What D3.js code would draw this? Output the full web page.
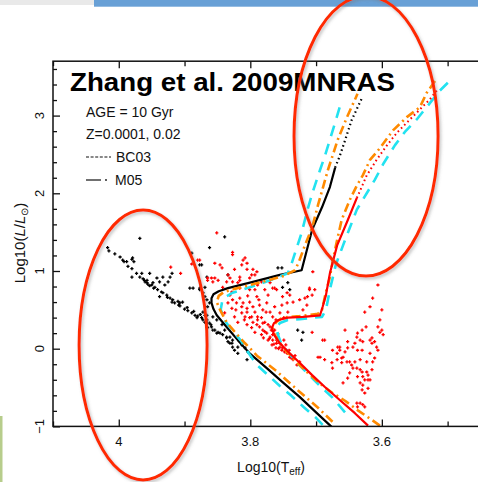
<!DOCTYPE html>
<html>
<head>
<meta charset="utf-8">
<script src="https://cdn.jsdelivr.net/npm/d3@7"></script>
<style>
  html, body { margin: 0; padding: 0; background: #fff; }
  svg { display: block; }
  text { font-family: "Liberation Sans", Arial, Helvetica, sans-serif; }
</style>
</head>
<body>
<svg id="hr" width="478" height="482"></svg>
<script>
// ---- Observed stars: [log Teff, log L/Lsun] ----
const starsBlack = [
  [4.017,1.30],[4.015,1.26],[4.006,1.22],[3.998,1.18],[3.994,1.14],[3.988,1.12],[3.980,1.15],[3.977,1.12],
  [3.986,1.06],[3.980,1.03],[3.973,0.97],[3.968,0.92],[3.963,0.90],[3.960,0.86],[3.957,0.85],[3.956,0.83],
  [3.957,0.88],[3.953,0.81],[3.950,0.82],[3.968,1.42],[3.980,0.92],[3.953,0.97],[3.942,0.91],[3.938,0.86],
  [3.945,0.79],[3.941,0.76],[3.935,0.73],[3.933,0.72],[3.927,0.69],[3.930,0.82],[3.925,0.86],[3.922,0.92],
  [3.919,0.97],[3.938,0.67],[3.922,0.65],[3.918,0.63],[3.919,0.60],[3.915,0.59],[3.909,0.56],[3.907,0.55],
  [3.903,0.60],[3.892,0.78],[3.887,0.78],[3.900,0.51],[3.895,0.49],[3.889,0.46],[3.884,0.43],[3.880,0.42],
  [3.881,0.40],[3.874,0.40],[3.872,0.37],[3.869,0.34],[3.865,0.33],[3.866,0.43],[3.877,0.78],[3.869,0.79],
  [3.862,1.30],[3.866,0.28],[3.865,0.27],[3.860,0.31],[3.857,0.24],[3.851,0.20],[3.836,0.15],[3.827,0.11],
  [3.819,0.02],[3.831,0.07],[3.889,1.23],[3.839,1.44],[3.979,1.17],[3.992,1.12],[3.965,0.97],[3.948,0.85],
  [3.933,0.92],[3.907,0.59],[3.874,1.08],[3.866,0.92],[3.872,0.47],[3.869,0.43],[3.866,0.37],[3.862,0.33],
  [3.859,0.28],[3.854,0.24],[3.849,0.21],[3.846,0.20],[3.842,0.18],[3.836,0.14],[3.834,0.09],[3.828,0.07],
  [3.827,0.02],[3.824,-0.02],[3.819,-0.06],[3.831,0.15],[3.839,0.24],[3.843,0.31],[3.851,0.37],[3.857,0.41],
  [3.862,0.59],[3.865,0.54],[3.866,0.63],[3.869,0.67],[3.872,0.72],[3.877,0.76],[3.758,1.04],[3.743,0.85],
  [3.751,0.79],[3.752,1.04],[3.740,0.76],[3.728,0.24],[3.720,0.21],[3.722,0.11],[3.834,0.95],[3.813,0.05],
  [3.808,0.01],[3.804,-0.04],[3.798,-0.11],[3.805,-0.14],[3.877,1.08],
  [3.910,0.61],[3.896,0.53],[3.886,0.48],[3.876,0.44],[3.947,0.78],[3.961,0.88],[3.926,0.66]
];

const starsRed = [
  [3.854,1.10],[3.846,1.08],[3.843,1.04],[3.854,0.91],[3.865,0.88],[3.849,0.88],[3.834,0.95],[3.831,0.91],
  [3.827,1.21],[3.824,1.02],[3.813,1.08],[3.805,1.10],[3.796,1.02],[3.793,0.95],[3.801,0.91],[3.816,0.88],
  [3.836,0.86],[3.842,0.79],[3.827,0.86],[3.819,0.85],[3.808,1.17],[3.921,1.05],[3.906,0.97],[3.880,1.14],
  [3.889,1.09],[3.865,0.91],[3.859,0.91],[3.851,1.49],[3.827,1.24],[3.877,1.14],[3.857,0.86],[3.811,1.14],
  [3.798,0.95],[3.790,0.99],[3.783,0.86],[3.778,0.76],[3.770,0.85],[3.766,0.78],[3.740,0.69],[3.735,0.60],
  [3.725,0.63],[3.714,0.56],[3.713,0.67],[3.706,0.69],[3.720,0.50],[3.805,1.02],[3.816,0.92],[3.801,0.76],
  [3.763,0.78],[3.744,0.72],[3.710,0.76],[3.705,0.99],
  [3.831,0.69],[3.827,0.63],[3.821,0.59],[3.816,0.65],[3.811,0.59],[3.805,0.52],[3.801,0.60],[3.796,0.54],
  [3.790,0.67],[3.786,0.56],[3.781,0.50],[3.775,0.59],[3.770,0.47],[3.766,0.41],[3.813,0.46],[3.808,0.41],
  [3.801,0.40],[3.796,0.34],[3.790,0.31],[3.786,0.28],[3.781,0.24],[3.775,0.20],[3.770,0.15],[3.766,0.11],
  [3.760,0.07],[3.755,0.02],[3.752,-0.02],[3.793,0.21],[3.783,0.18],[3.773,0.11],[3.767,0.05],[3.789,0.41],
  [3.778,0.34],[3.824,0.41],[3.819,0.34],[3.805,0.31],[3.798,0.27],[3.760,0.76],[3.751,0.67],[3.744,0.59],
  [3.763,0.54],[3.755,0.46],[3.834,0.59],[3.828,0.52],[3.839,0.46],[3.813,0.54],[3.805,0.47],[3.798,0.41],
  [3.789,0.37],[3.781,0.33],[3.766,0.18],[3.760,0.11],[3.755,0.07],[3.751,0.01],[3.744,-0.06],[3.740,-0.11],
  [3.735,-0.14],[3.729,-0.21],[3.822,0.50],[3.809,0.37],[3.793,0.47],[3.783,0.40],[3.773,0.31],[3.763,0.24],
  [3.758,0.19],[3.749,0.11],[3.776,0.47],[3.787,0.63],[3.804,0.68],[3.793,0.76],[3.773,0.69],[3.752,0.56],
  [3.743,0.47],[3.761,0.37],[3.770,0.28],[3.780,0.14],[3.761,0.01],[3.746,0.05],[3.741,-0.02],[3.732,-0.09],
  [3.725,-0.17],[3.719,-0.25],[3.816,0.78],[3.828,0.73],[3.789,0.82],[3.749,0.40],
  [3.606,0.82],[3.614,0.65],[3.618,0.54],[3.600,0.50],[3.626,0.47],[3.603,0.37],[3.606,0.28],[3.600,0.24],
  [3.598,0.18],[3.624,0.28],[3.630,0.24],[3.637,0.20],[3.638,0.15],[3.633,0.11],[3.629,0.09],[3.618,0.11],
  [3.615,0.14],[3.611,0.09],[3.608,0.02],[3.606,-0.02],[3.652,0.09],[3.656,0.24],[3.667,0.02],[3.664,-0.02],
  [3.675,-0.02],[3.656,-0.04],[3.652,0.01],[3.644,0.02],[3.637,-0.02],[3.630,-0.02],[3.618,-0.06],[3.611,-0.12],
  [3.614,-0.17],[3.623,-0.17],[3.633,-0.14],[3.641,-0.17],[3.649,-0.17],[3.661,-0.12],[3.668,-0.14],[3.676,-0.18],
  [3.687,-0.14],[3.694,-0.11],[3.675,-0.25],[3.661,-0.18],[3.644,-0.25],[3.633,-0.27],[3.623,-0.30],[3.615,-0.27],
  [3.621,-0.34],[3.629,-0.36],[3.637,-0.36],[3.652,-0.38],[3.649,-0.31],[3.626,-0.40],[3.618,-0.40],[3.633,-0.44],
  [3.629,-0.47],[3.621,-0.51],[3.630,-0.53],[3.626,-0.57],[3.659,-0.44],[3.687,0.11],[3.706,0.21],[3.633,-0.70],
  [3.629,-0.72],[3.637,-0.75],[3.626,-0.75],[3.702,0.76],[3.717,0.65],[3.710,0.78],[3.603,0.21],[3.641,0.07],
  [3.615,0.07],[3.690,0.11],[3.697,-0.11],[3.664,0.02],[3.668,-0.06],[3.659,-0.11],[3.653,-0.17],[3.646,-0.21],
  [3.638,-0.25],[3.630,-0.30],[3.621,-0.40],[3.638,-0.70],
  [3.778,0.22],[3.771,0.13],[3.764,0.06],[3.757,0.00],[3.748,-0.04],[3.738,-0.12],[3.768,0.24],[3.759,0.14]
];

// ---- Model isochrones, 10 Gyr ----
// Z = 0.0001
const isoPoorBlack = [
  [3.676,-1.01],[3.700,-0.82],[3.725,-0.62],[3.751,-0.43],[3.775,-0.25],[3.801,-0.06],[3.819,0.11],[3.836,0.28],
  [3.851,0.43],[3.856,0.51],[3.859,0.59],[3.859,0.65],[3.856,0.70],[3.848,0.74],[3.834,0.78],
  [3.796,0.86],[3.755,0.95],[3.722,1.01],[3.714,1.27],[3.706,1.53],[3.691,1.82],[3.679,2.08],[3.671,2.33]
];
const isoPoorBlackTop = [[3.671,2.33],[3.664,2.48],[3.656,2.68],[3.646,2.94],[3.630,3.23]];
const isoPoorCyan = [
  [3.690,-0.98],[3.700,-0.89],[3.719,-0.75],[3.737,-0.61],[3.755,-0.48],[3.773,-0.34],[3.790,-0.21],
  [3.804,-0.04],[3.814,0.10],[3.827,0.23],[3.837,0.34],[3.845,0.50],[3.843,0.60],[3.837,0.67],[3.827,0.72],
  [3.801,0.79],[3.770,0.88],[3.743,0.97],[3.737,1.10],[3.729,1.31],[3.722,1.49],[3.713,1.79],[3.705,2.02],
  [3.694,2.30],[3.687,2.47],[3.679,2.69],[3.671,2.91],[3.664,3.11]
];
const isoPoorOrange = [
  [3.675,-0.94],[3.697,-0.76],[3.727,-0.54],[3.760,-0.29],[3.790,-0.09],[3.801,0.01],[3.808,0.07],
  [3.822,0.20],[3.836,0.34],[3.846,0.50],[3.851,0.60],[3.848,0.68],[3.840,0.73],[3.824,0.77],[3.801,0.82],
  [3.773,0.88],[3.748,0.94],[3.732,1.01],[3.726,1.12],[3.717,1.33],[3.706,1.56],[3.697,1.85],[3.682,2.30],
  [3.667,2.69],[3.653,2.98],[3.637,3.28]
];
// Z = 0.02
const isoRichRed = [
  [3.621,-0.99],[3.641,-0.83],[3.664,-0.66],[3.687,-0.49],[3.706,-0.34],[3.725,-0.18],[3.740,-0.06],
  [3.755,0.07],[3.764,0.18],[3.767,0.27],[3.764,0.33],[3.757,0.37],[3.743,0.40],[3.720,0.41],[3.694,0.43],
  [3.690,0.54],[3.685,0.69],[3.679,0.97],[3.668,1.33],[3.653,1.63],[3.638,1.94]
];
const isoRichRedTop = [
  [3.638,1.94],[3.623,2.23],[3.608,2.43],[3.592,2.62],[3.577,2.78],[3.562,2.91],[3.542,3.08],[3.527,3.21],[3.515,3.34]
];
const isoRichCyan = [
  [3.656,-0.82],[3.675,-0.63],[3.694,-0.48],[3.714,-0.31],[3.729,-0.18],[3.743,-0.04],[3.754,0.09],
  [3.758,0.18],[3.760,0.27],[3.755,0.33],[3.743,0.37],[3.725,0.38],[3.691,0.41],[3.685,0.50],[3.679,0.76],
  [3.670,1.08],[3.659,1.33],[3.649,1.55],[3.638,1.79],[3.623,2.00],[3.611,2.17],[3.597,2.39],[3.580,2.62],
  [3.565,2.79],[3.547,2.95],[3.527,3.16],[3.512,3.32],[3.494,3.47]
];
const isoRichOrange = [
  [3.603,-0.99],[3.618,-0.90],[3.637,-0.79],[3.656,-0.67],[3.675,-0.57],[3.694,-0.45],[3.714,-0.30],
  [3.731,-0.16],[3.744,-0.04],[3.757,0.09],[3.763,0.18],[3.766,0.27],[3.761,0.34],[3.751,0.40],[3.725,0.42],
  [3.697,0.45],[3.691,0.50],[3.685,0.73],[3.679,0.92],[3.675,1.12],[3.668,1.40],[3.661,1.66],[3.649,1.91],
  [3.638,2.10],[3.629,2.23],[3.618,2.43],[3.603,2.58],[3.583,2.81],[3.562,2.98],[3.542,3.11],[3.532,3.29],[3.518,3.46]
];

// Highlight rings: centre and half-axes in data units
const rings = [
  { T: 3.963, L: 0.048, dT: 0.0973, dL: 1.737 },
  { T: 3.624, L: 2.737, dT: 0.1095, dL: 1.802 }
];

// Axis ticks
const xMajor = [4.0, 3.8, 3.6];
const xMajorLabels = ["4", "3.8", "3.6"];
const xMinor = [4.1, 3.9, 3.7, 3.5];
const yMajor = [-1, 0, 1, 2, 3];
const yMajorLabels = ["\u22121", "0", "1", "2", "3"];
const yMinor = d3.range(-0.8, 3.7, 0.2).map(v => +v.toFixed(1)).filter(v => !Number.isInteger(v));

const titleText = "Zhang et al. 2009MNRAS";
const legendLines = ["AGE = 10 Gyr", "Z=0.0001, 0.02", "BC03", "M05"];

// ---- Drawing ----
const svg = d3.select("#hr");
const frameL = 53, frameR = 480.5, frameT = 61.2, frameB = 426.4;
const x = d3.scaleLinear().domain([4.1, 3.45]).range([frameL, frameR]);
const y = d3.scaleLinear().domain([-1, 3.7]).range([frameB, frameT]);

// strip across the top edge and thin bar on the left edge
svg.append("rect").attr("x", 0).attr("y", 0).attr("width", 94).attr("height", 5).attr("fill", "#e9e9e9");
svg.append("rect").attr("x", 94).attr("y", 0).attr("width", 384).attr("height", 6.7).attr("fill", "#68a0d6");
svg.append("rect").attr("x", 0).attr("y", 416).attr("width", 2.5).attr("height", 66).attr("fill", "#b7cd8c");

const defs = svg.append("defs");
defs.append("clipPath").attr("id", "plotclip")
  .append("rect").attr("x", frameL).attr("y", frameT).attr("width", frameR - frameL).attr("height", frameB - frameT);
const shadow = defs.append("filter").attr("id", "ringshadow")
  .attr("x", "-10%").attr("y", "-10%").attr("width", "120%").attr("height", "120%");
shadow.append("feDropShadow").attr("dx", 1.5).attr("dy", 2).attr("stdDeviation", 1.5)
  .attr("flood-color", "#777").attr("flood-opacity", 0.45);

const plot = svg.append("g").attr("clip-path", "url(#plotclip)");

// star markers as small plus signs
function plus(d) {
  const px = x(d[0]), py = y(d[1]);
  return `M${px - 1.6},${py}h3.2M${px},${py - 1.6}v3.2`;
}
plot.append("path").attr("d", starsBlack.map(plus).join(""))
  .attr("stroke", "#000").attr("stroke-width", 1.3).attr("fill", "none");
plot.append("path").attr("d", starsRed.map(plus).join(""))
  .attr("stroke", "#ff0000").attr("stroke-width", 1.3).attr("fill", "none");

const line = d3.line().x(d => x(d[0])).y(d => y(d[1])).curve(d3.curveLinear);

function track(data, color, width, dash) {
  plot.append("path").attr("d", line(data)).attr("fill", "none")
    .attr("stroke", color).attr("stroke-width", width)
    .attr("stroke-dasharray", dash || null).attr("stroke-linejoin", "round");
}
track(isoPoorBlack, "#000", 2.2);
track(isoPoorBlackTop, "#000", 2.2, "1.5,3");
track(isoPoorCyan, "#22e2f0", 2.6, "11,8");
track(isoRichCyan, "#22e2f0", 2.6, "11,8");
track(isoPoorOrange, "#ff8a00", 2.6, "9,4,2,4");
track(isoRichOrange, "#ff8a00", 2.6, "9,4,2,4");
track(isoRichRed, "#ff0000", 2.2);
track(isoRichRedTop, "#ff0000", 2, "1.6,3");

// frame and ticks
const axes = svg.append("g").attr("class", "axes");
function styleAxis(g) {
  g.select(".domain").remove();
  g.selectAll(".tick line").attr("stroke", "#111").attr("stroke-width", 1.3);
  g.selectAll("text").remove();
}
axes.append("g").attr("transform", `translate(0,${frameB})`)
  .call(d3.axisBottom(x).tickValues(xMajor).tickSize(-7)).call(styleAxis);
axes.append("g").attr("transform", `translate(0,${frameB})`)
  .call(d3.axisBottom(x).tickValues(xMinor).tickSize(-5)).call(styleAxis);
axes.append("g").attr("transform", `translate(0,${frameT})`)
  .call(d3.axisTop(x).tickValues(xMajor).tickSize(-7)).call(styleAxis);
axes.append("g").attr("transform", `translate(0,${frameT})`)
  .call(d3.axisTop(x).tickValues(xMinor).tickSize(-5)).call(styleAxis);
axes.append("g").attr("transform", `translate(${frameL},0)`)
  .call(d3.axisLeft(y).tickValues(yMajor).tickSize(-7)).call(styleAxis);
axes.append("g").attr("transform", `translate(${frameL},0)`)
  .call(d3.axisLeft(y).tickValues(yMinor).tickSize(-4)).call(styleAxis);
axes.append("rect").attr("x", frameL).attr("y", frameT).attr("width", frameR - frameL).attr("height", frameB - frameT)
  .attr("fill", "none").attr("stroke", "#111").attr("stroke-width", 1.5);

// tick labels
axes.selectAll("text.xl").data(xMajor).join("text").attr("class", "xl")
  .attr("x", d => x(d)).attr("y", 446).attr("text-anchor", "middle")
  .attr("font-size", 13).attr("fill", "#111").text((d, i) => xMajorLabels[i]);
axes.selectAll("text.yl").data(yMajor).join("text").attr("class", "yl")
  .attr("transform", d => `translate(39,${y(d)}) rotate(-90)`)
  .attr("text-anchor", "middle").attr("dy", "0.36em")
  .attr("font-size", 13).attr("fill", "#111").text((d, i) => yMajorLabels[i]);

// axis titles
const xt = axes.append("text").attr("x", 271).attr("y", 472).attr("text-anchor", "middle")
  .attr("font-size", 14).attr("fill", "#111");
xt.append("tspan").text("Log10(T");
xt.append("tspan").attr("font-size", 10).attr("dy", 3).text("eff");
xt.append("tspan").attr("dy", -3).text(")");

const yt = axes.append("text").attr("transform", "translate(25,243) rotate(-90)")
  .attr("text-anchor", "middle").attr("font-size", 15).attr("fill", "#111");
yt.append("tspan").text("Log10(");
yt.append("tspan").attr("font-style", "italic").text("L");
yt.append("tspan").text("/");
yt.append("tspan").attr("font-style", "italic").text("L");
yt.append("tspan").attr("font-size", 10).attr("dy", 3).text("\u2299");
yt.append("tspan").attr("dy", -3).text(")");

// legend
const lg = svg.append("g").attr("font-size", 14).attr("fill", "#111");
lg.append("text").attr("x", 86).attr("y", 117).text(legendLines[0]);
lg.append("text").attr("x", 86).attr("y", 139).text(legendLines[1]);
lg.append("line").attr("x1", 86).attr("x2", 111).attr("y1", 157).attr("y2", 157)
  .attr("stroke", "#111").attr("stroke-width", 1.2).attr("stroke-dasharray", "3,1.6");
lg.append("text").attr("x", 116).attr("y", 162).text(legendLines[2]);
lg.append("line").attr("x1", 86).attr("x2", 101).attr("y1", 180).attr("y2", 180)
  .attr("stroke", "#111").attr("stroke-width", 1.2);
lg.append("circle").attr("cx", 106).attr("cy", 180).attr("r", 0.9).attr("fill", "#111");
lg.append("text").attr("x", 115).attr("y", 185).text(legendLines[3]);

// title
svg.append("text").attr("x", 70).attr("y", 91)
  .attr("font-family", "'Open Sans', 'Liberation Sans', sans-serif")
  .attr("font-weight", "bold").attr("font-size", 25).attr("fill", "#000")
  .attr("textLength", 325).attr("lengthAdjust", "spacingAndGlyphs")
  .text(titleText);

// highlight rings
svg.append("g").attr("filter", "url(#ringshadow)")
  .selectAll("ellipse").data(rings).join("ellipse")
  .attr("cx", d => x(d.T)).attr("cy", d => y(d.L))
  .attr("rx", d => Math.abs(x(d.T + d.dT) - x(d.T)))
  .attr("ry", d => Math.abs(y(d.L + d.dL) - y(d.L)))
  .attr("fill", "none").attr("stroke", "#ff2a00").attr("stroke-width", 3);
</script>
</body>
</html>
